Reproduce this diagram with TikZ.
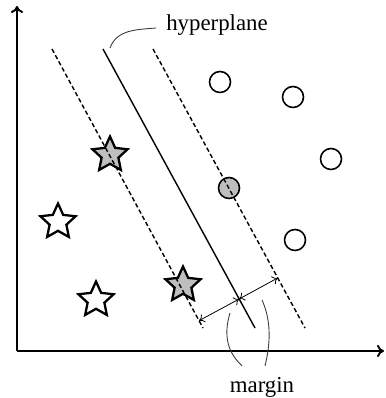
\documentclass[tikz,border=0pt]{standalone}
\usepackage{fontspec}
\setmainfont{Liberation Serif}
\usepackage{tikz}
\usetikzlibrary{calc,positioning,shapes.geometric,arrows.meta}
\definecolor{InkBlack}{HTML}{000000}
\definecolor{SupportGray}{HTML}{BEBEBE}
\definecolor{LeaderGray}{HTML}{3A3A3A}
\tikzset{
    axisline/.style={draw=InkBlack, line width=1.1pt, -{To[length=4pt,width=7pt]}},
    planeline/.style={draw=InkBlack, line width=0.8pt},
    marginline/.style={draw=InkBlack, line width=0.8pt, dash pattern=on 2.5pt off 1.5pt},
    gapline/.style={draw=InkBlack, line width=0.45pt, {To[length=3pt,width=5pt]}-{To[length=3pt,width=5pt]}},
    leader/.style={draw=LeaderGray, line width=0.5pt},
    starpt/.style={star, star points=5, star point ratio=2.1, draw=InkBlack,
        line width=1.3pt, minimum size=0.74cm, inner sep=0pt, fill=#1},
    circpt/.style={circle, draw=InkBlack, line width=0.9pt,
        minimum size=0.42cm, inner sep=0pt, fill=#1}
}

\begin{document}
\begin{tikzpicture}[x=0.02cm, y=0.02cm, font=\fontsize{13}{15}\selectfont]
    \useasboundingbox (0,0) rectangle (385,398);

    \coordinate (o) at (17,47);
    \coordinate (ytop) at (17,392);
    \coordinate (xend) at (384,47);
    \draw[axisline] (o) -- (ytop);
    \draw[axisline] (o) -- (xend);

    \node[starpt=SupportGray] (s1) at (110,243) {};
    \node[starpt=white] (s2) at (58,176) {};
    \node[starpt=white] (s3) at (96,98) {};
    \node[starpt=SupportGray] (s4) at (183,113) {};

    \node[circpt=white] (c1) at (220,316) {};
    \node[circpt=white] (c2) at (293,301) {};
    \node[circpt=white] (c3) at (331,239) {};
    \node[circpt=SupportGray] (c4) at (229,210) {};
    \node[circpt=white] (c5) at (295,158) {};

    \coordinate (dl1) at (52,349);
    \coordinate (dl2) at (203,70);
    \coordinate (hp1) at (103,349);
    \coordinate (hp2) at (255,70);
    \coordinate (dr1) at (153,349);
    \coordinate (dr2) at (305,70);
    \draw[marginline] (dl1) -- (dl2);
    \draw[planeline] (hp1) -- (hp2);
    \draw[marginline] (dr1) -- (dr2);

    \coordinate (hpm) at ($(hp1)!0.896!(hp2)$);
    \coordinate (ml) at ($(dl1)!(hpm)!(dl2)$);
    \coordinate (mr) at ($(dr1)!(hpm)!(dr2)$);
    \draw[gapline] (hpm) -- (ml);
    \draw[gapline] (hpm) -- (mr);

    \node (hyp) at (217,373) {hyperplane};
    \coordinate (lead) at ($(hp1)+(7,1)$);
    \draw[leader] (lead) to[out=70,in=185] ($(hyp.west)+(-4,-3)$);

    \node (mgn) at (262,11) {margin};
    \coordinate (bl) at (230,85);
    \coordinate (br) at (262,98);
    \draw[leader] (bl) .. controls (223,62) and (228,45) .. ($(mgn.north)+(-20,5)$);
    \draw[leader] (br) .. controls (272,76) and (270,52) .. ($(mgn.north)+(3,5)$);
\end{tikzpicture}
\end{document}
